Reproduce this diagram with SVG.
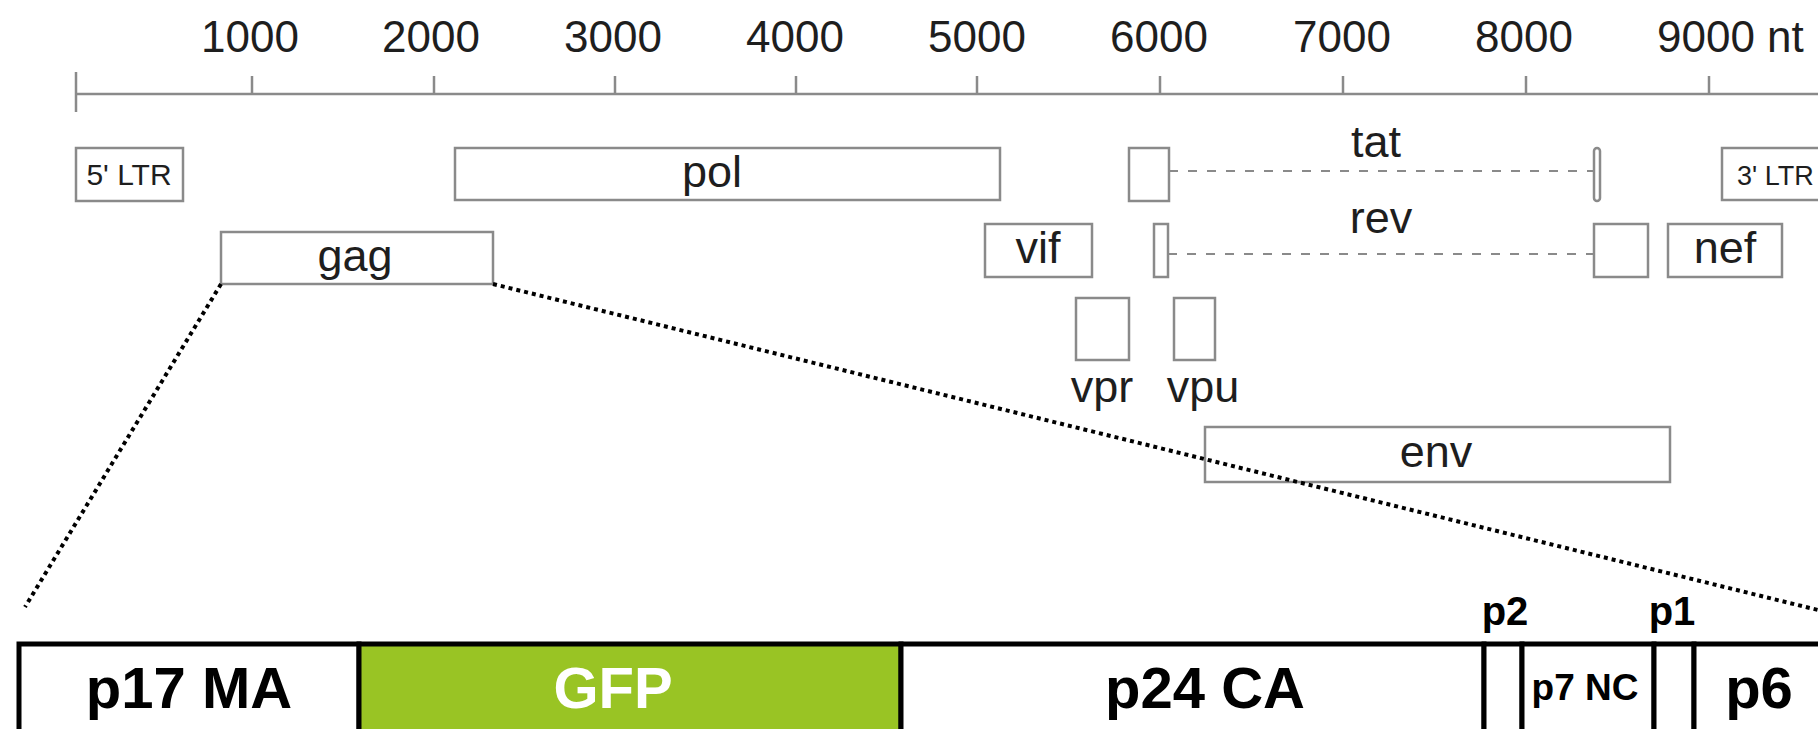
<svg xmlns="http://www.w3.org/2000/svg" width="1818" height="729" viewBox="0 0 1818 729">
<defs>
<style>
.axis{stroke:#8a8a8a;stroke-width:2.5;fill:none}
.tick{font-family:"Liberation Sans",Arial,sans-serif;font-size:44px;fill:#1e1e1e;text-anchor:middle}
.box{fill:#fff;stroke:#8a8a8a;stroke-width:2.5}
.lbl{font-family:"Liberation Sans",Arial,sans-serif;font-size:45px;fill:#1e1e1e;text-anchor:middle}
.small{font-family:"Liberation Sans",Arial,sans-serif;font-size:30px;fill:#1e1e1e}
.splice{stroke:#8a8a8a;stroke-width:2;stroke-dasharray:9 10;fill:none}
.zoom{stroke:#000;stroke-width:4;stroke-dasharray:4 4;fill:none}
.cell{fill:#fff;stroke:#000;stroke-width:5}
.gfp{fill:#99c424;stroke:#000;stroke-width:5}
.big{font-family:"Liberation Sans",Arial,sans-serif;font-weight:bold;font-size:58px;fill:#000;text-anchor:middle}
.mid{font-family:"Liberation Sans",Arial,sans-serif;font-weight:bold;font-size:40px;fill:#000;text-anchor:middle}
.nc{font-family:"Liberation Sans",Arial,sans-serif;font-weight:bold;font-size:37px;fill:#000;text-anchor:middle}
.white{fill:#fff}
</style>
</defs>
<rect width="1818" height="729" fill="#fff"/>

<g id="axis">
<line class="axis" x1="76" y1="94" x2="1818" y2="94"/>
<line class="axis" x1="76" y1="72" x2="76" y2="112"/>
<line class="axis" x1="252" y1="76" x2="252" y2="94"/>
<line class="axis" x1="434" y1="76" x2="434" y2="94"/>
<line class="axis" x1="615" y1="76" x2="615" y2="94"/>
<line class="axis" x1="796" y1="76" x2="796" y2="94"/>
<line class="axis" x1="977" y1="76" x2="977" y2="94"/>
<line class="axis" x1="1160" y1="76" x2="1160" y2="94"/>
<line class="axis" x1="1343" y1="76" x2="1343" y2="94"/>
<line class="axis" x1="1526" y1="76" x2="1526" y2="94"/>
<line class="axis" x1="1709" y1="76" x2="1709" y2="94"/>
<text class="tick" x="250" y="52">1000</text>
<text class="tick" x="431" y="52">2000</text>
<text class="tick" x="613" y="52">3000</text>
<text class="tick" x="795" y="52">4000</text>
<text class="tick" x="977" y="52">5000</text>
<text class="tick" x="1159" y="52">6000</text>
<text class="tick" x="1342" y="52">7000</text>
<text class="tick" x="1524" y="52">8000</text>
<text class="tick" x="1657" y="52" style="text-anchor:start">9000 nt</text>
</g>

<g id="ltr5">
<rect class="box" x="76" y="148" width="107" height="53"/>
<text class="small" x="129" y="185" style="text-anchor:middle">5' LTR</text>
</g>
<g id="pol">
<rect class="box" x="455" y="148" width="545" height="52"/>
<text class="lbl" x="712" y="187">pol</text>
</g>
<g id="gag">
<rect class="box" x="221" y="232" width="272" height="52"/>
<text class="lbl" x="355" y="271">gag</text>
</g>
<g id="vif">
<rect class="box" x="985" y="224" width="107" height="53"/>
<text class="lbl" x="1038" y="263">vif</text>
</g>
<g id="tat">
<rect class="box" x="1129" y="148" width="40" height="53"/>
<rect class="box" x="1594" y="148" width="6" height="53" rx="3"/>
<text class="lbl" x="1376" y="157">tat</text>
</g>
<g id="rev">
<rect class="box" x="1154" y="224" width="14" height="53"/>
<rect class="box" x="1594" y="224" width="54" height="53"/>
<text class="lbl" x="1381" y="233">rev</text>
</g>
<g id="ltr3">
<rect class="box" x="1722" y="148" width="110" height="52"/>
<text class="small" x="1737" y="185" style="text-anchor:start;font-size:27px">3' LTR</text>
</g>
<g id="nef">
<rect class="box" x="1668" y="224" width="114" height="53"/>
<text class="lbl" x="1725" y="263">nef</text>
</g>
<g id="vpr">
<rect class="box" x="1076" y="298" width="53" height="62"/>
<text class="lbl" x="1102" y="402">vpr</text>
</g>
<g id="vpu">
<rect class="box" x="1174" y="298" width="41" height="62"/>
<text class="lbl" x="1203" y="402">vpu</text>
</g>
<g id="env">
<rect class="box" x="1205" y="427" width="465" height="55"/>
<text class="lbl" x="1436" y="467">env</text>
</g>

<g id="connectors">
<line class="splice" x1="1169" y1="171" x2="1594" y2="171"/>
<line class="splice" x1="1168" y1="254" x2="1594" y2="254"/>
<line class="zoom" x1="221" y1="284" x2="25" y2="607"/>
<line class="zoom" x1="493" y1="284" x2="1818" y2="610"/>
</g>

<g id="gagbar">
<rect class="cell" x="19" y="644" width="340" height="100"/>
<rect class="gfp" x="359" y="644" width="542" height="100"/>
<rect class="cell" x="901" y="644" width="583" height="100"/>
<rect class="cell" x="1484" y="644" width="38" height="100"/>
<rect class="cell" x="1522" y="644" width="132" height="100"/>
<rect class="cell" x="1654" y="644" width="40" height="100"/>
<rect class="cell" x="1694" y="644" width="140" height="100"/>
<text class="big" x="189" y="708">p17 MA</text>
<text class="big white" x="613" y="708">GFP</text>
<text class="big" x="1205" y="708">p24 CA</text>
<text class="nc" x="1585" y="700">p7 NC</text>
<text class="big" x="1759" y="708">p6</text>
<text class="mid" x="1505" y="625">p2</text>
<text class="mid" x="1672" y="625">p1</text>
</g>
</svg>
